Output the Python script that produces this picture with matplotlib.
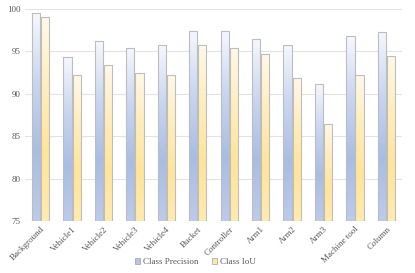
import numpy as np
import matplotlib
matplotlib.use('Agg')
import matplotlib.pyplot as plt
from matplotlib.colors import LinearSegmentedColormap
from matplotlib.patches import Patch

categories = ['Background', 'Vehicle1', 'Vehicle2', 'Vehicle3', 'Vehicle4', 'Bucket',
              'Controller', 'Arm1', 'Arm2', 'Arm3', 'Machine tool', 'Column']
precision = [99.5, 94.3, 96.2, 95.4, 95.8, 97.4, 97.4, 96.5, 95.8, 91.2, 96.8, 97.3]
iou = [99.0, 92.2, 93.35, 92.5, 92.2, 95.8, 95.4, 94.7, 91.9, 86.5, 92.2, 94.5]

plt.rcParams['font.family'] = ['Liberation Serif', 'DejaVu Serif']

# top -> bottom gradient colours (Excel style)
blue_cm = LinearSegmentedColormap.from_list('b', ['#f6f8fd', '#c9d6f0', '#a9bde4', '#bccbeb'])
gold_cm = LinearSegmentedColormap.from_list('g', ['#fff9ea', '#ffedbd', '#ffe59a', '#ffebb0'])

fig = plt.figure(figsize=(4.15, 2.73), dpi=100)
ax = fig.add_axes([0.060, 0.190, 0.909, 0.777])

x = np.arange(len(categories))
w = 0.26
off = 0.145
grad = np.linspace(0, 1, 256).reshape(-1, 1)

def draw_bars(xs, vals, cmap, label):
    bars = ax.bar(xs, np.array(vals) - 75, w, bottom=75, facecolor='none',
                  edgecolor='#bdbdbd', linewidth=0.8, label=label, zorder=3)
    for b in bars:
        x0, y0 = b.get_x(), b.get_y()
        im = ax.imshow(grad, cmap=cmap, aspect='auto', zorder=2,
                       extent=[x0, x0 + b.get_width(), y0, y0 + b.get_height()],
                       origin='upper')
        im.set_clip_path(b)
    return bars

draw_bars(x - off, precision, blue_cm, 'Class Precision')
draw_bars(x + off, iou, gold_cm, 'Class IoU')

ax.set_xlim(-0.5, len(categories) - 0.5)
ax.set_ylim(75, 100)
ax.set_yticks(range(75, 101, 5))
ax.grid(axis='y', color='#e3e3e3', linewidth=0.8, zorder=0)
ax.set_axisbelow(True)
for s in ax.spines.values():
    s.set_visible(False)
ax.tick_params(length=0, colors='#595959', labelsize=6.5, pad=3)
ax.set_xticks(x)
ax.set_xticklabels(categories, rotation=45, ha='right', rotation_mode='anchor')

handles = [Patch(facecolor='#b4c5e8', edgecolor='#a0a0a0', linewidth=0.5),
           Patch(facecolor='#ffe9a8', edgecolor='#a0a0a0', linewidth=0.5)]
fig.legend(handles, ['Class Precision', 'Class IoU'], loc='center', bbox_to_anchor=(0.47, 0.04),
           ncol=2, frameon=False, fontsize=6.5, handlelength=0.6, handleheight=0.6,
           handletextpad=0.3, columnspacing=1.5, labelcolor='#595959')

fig.savefig('out.png', dpi=100)
